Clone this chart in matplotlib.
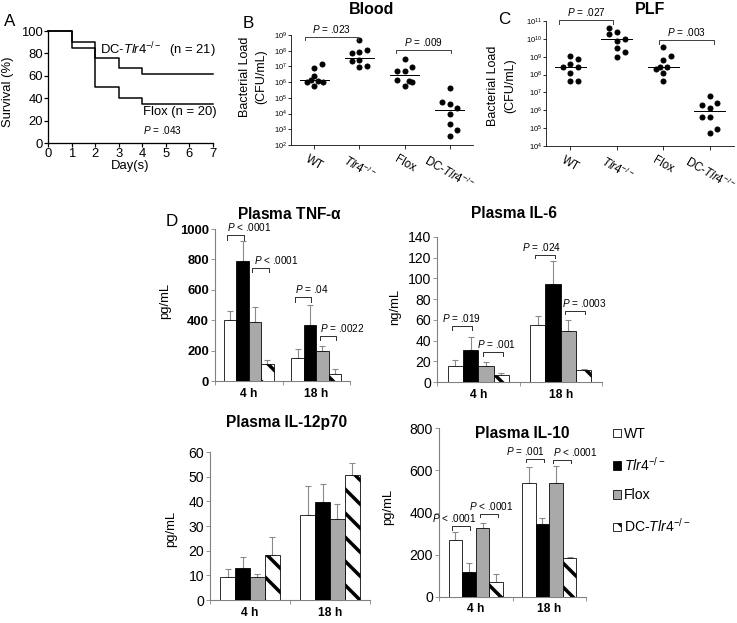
import numpy as np
import matplotlib
matplotlib.use('Agg')
import matplotlib.pyplot as plt
from matplotlib.patches import Patch
from matplotlib.ticker import NullLocator

W, H = 737, 623
DPI = 72

plt.rcParams['font.family'] = ['Liberation Sans', 'DejaVu Sans']
plt.rcParams['mathtext.fontset'] = 'custom'
plt.rcParams['mathtext.rm'] = 'Liberation Sans'
plt.rcParams['mathtext.it'] = 'Liberation Sans:italic'
plt.rcParams['mathtext.bf'] = 'Liberation Sans:bold'
plt.rcParams['hatch.linewidth'] = 3.5

# ---------------- data ----------------
# A: survival
surv_days = [0, 1, 2, 3, 4, 7]
surv_dc = [100, 90.5, 76.2, 66.7, 61.9, 61.9]
surv_flox = [100, 85, 50, 40, 35, 35]

strain_labels = ['WT', r'$\mathit{Tlr4}^{-/-}$', 'Flox', r'DC-$\mathit{Tlr4}^{-/-}$']

# B: blood bacterial load (CFU/mL)
blood_wt = [1.5e7, 7.4e6, 2.3e6, 1.0e6, 1.4e6, 1.1e6, 1.0e6, 5.5e5]
blood_tlr4 = [4.8e8, 7.6e7, 8.9e7, 1.1e8, 2.1e7, 2.6e7, 9.1e6, 1.0e7]
blood_flox = [2.9e7, 4.8e6, 4.8e6, 8.7e6, 1.4e6, 1.1e6, 1.0e6, 5.5e5]
blood_dc = [4.3e5, 5.6e4, 4.2e4, 2.3e4, 9.8e3, 2.1e3, 9.1e2, 3.6e2]
blood_median = [1.3e6, 3.4e7, 3.0e6, 1.7e4]

# C: peritoneal lavage fluid bacterial load (CFU/mL)
plf_wt = [1.1e9, 7.2e8, 3.9e8, 2.5e8, 2.6e8, 1.3e8, 4.6e7, 4.6e7]
plf_tlr4 = [4.3e10, 1.9e10, 2.3e10, 9.8e9, 7.9e9, 3.0e9, 1.9e9, 1.0e9]
plf_flox = [3.4e9, 1.1e9, 6.6e8, 2.0e8, 2.6e8, 2.6e8, 1.3e8, 4.6e7]
plf_dc = [6.6e6, 2.1e6, 2.5e6, 1.3e6, 4.4e5, 4.4e5, 5.1e4, 8.9e4]
plf_median = [2.6e8, 9.3e9, 2.6e8, 8.7e5]

# horizontal jitter of the dots
blood_dx = [[0.16, 0, 0, -0.16, -0.08, 0.09, 0.18, 0],
            [0, -0.17, 0, 0.16, -0.17, 0, 0, 0.16],
            [0, -0.17, 0, 0.16, -0.17, 0.09, 0.16, 0],
            [0, -0.16, 0, 0.16, 0, 0, 0.16, 0]]
plf_dx = [[0, 0.16, 0, -0.16, 0.16, 0, 0, 0.16],
          [-0.16, -0.16, 0, 0.17, 0, 0, 0.17, 0],
          [0, 0.16, 0, -0.16, -0.07, 0.08, 0, 0],
          [0, -0.16, 0.16, 0, -0.16, 0, 0, 0.16]]

# D: plasma cytokines, rows = WT, Tlr4-/-, Flox, DC-Tlr4-/- ; columns = 4 h, 18 h
time_labels = ['4 h', '18 h']
tnf_mean = [[400, 152], [790, 368], [385, 200], [110, 44]]
tnf_err = [[60, 60], [130, 135], [104, 32], [27, 35]]
il6_mean = [[15.4, 54.7], [31.2, 94.6], [15.1, 49.6], [6.4, 11.9]]
il6_err = [[6.2, 8.7], [12.2, 22.6], [4.2, 10.6], [2.6, 0.6]]
il12_mean = [[9.4, 34.4], [13.1, 39.8], [9.2, 32.8], [18.2, 50.6]]
il12_err = [[3.0, 11.8], [4.4, 7.1], [1.3, 6.0], [7.4, 4.9]]
il10_mean = [[268, 540], [118, 344], [327, 540], [71, 186]]
il10_err = [[40, 75], [43, 32], [23, 78], [36, 3]]

# significance brackets: (time index, bar i, bar j, height)
tnf_brackets = [(0, 0, 1, 958), (0, 2, 3, 743), (1, 0, 1, 551), (1, 2, 3, 297)]
tnf_p = [r'$\mathit{P}$ < .0001', r'$\mathit{P}$ < .0001', r'$\mathit{P}$ = .04', r'$\mathit{P}$ = .0022']
il6_brackets = [(0, 0, 1, 54), (0, 2, 3, 29), (1, 0, 1, 123), (1, 2, 3, 69)]
il6_p = [r'$\mathit{P}$ = .019', r'$\mathit{P}$ = .001', r'$\mathit{P}$ = .024', r'$\mathit{P}$ = .0003']
il10_brackets = [(0, 0, 1, 335), (0, 2, 3, 395), (1, 0, 1, 655), (1, 2, 3, 650)]
il10_p = [r'$\mathit{P}$ < .0001', r'$\mathit{P}$ < .0001', r'$\mathit{P}$ = .001', r'$\mathit{P}$ < .0001']

bar_colors = ['white', 'black', '#a9a9a9', 'white']
bar_hatch = [None, None, None, '\\']

fig = plt.figure(figsize=(W / DPI, H / DPI), dpi=DPI)


def add_ax(left, top, right, bottom):
    return fig.add_axes([left / W, 1 - bottom / H, (right - left) / W, (bottom - top) / H])


def ftext(x, y, s, **kw):
    fig.text(x / W, 1 - y / H, s, **kw)


# ---------------- A ----------------
axA = add_ax(48, 31, 213, 143)
axA.step(surv_days, surv_dc, where='post', color='black', lw=1.5, clip_on=False)
axA.step(surv_days, surv_flox, where='post', color='black', lw=1.5, clip_on=False)
axA.set_xlim(0, 7)
axA.set_ylim(0, 100)
axA.set_xticks(range(8))
axA.set_yticks(range(0, 101, 20))
for s in ['top', 'right']:
    axA.spines[s].set_visible(False)
for s in ['left', 'bottom']:
    axA.spines[s].set_linewidth(1.3)
axA.tick_params(labelsize=13, length=4, width=1.2, pad=1)
axA.set_xlabel('Day(s)', fontsize=13, labelpad=0)
axA.text(2.2, 83, r'DC-$\mathit{Tlr4}^{-/-}$  (n = 21)', fontsize=13, va='center')
axA.text(4.03, 27.7, 'Flox (n = 20)', fontsize=13, va='center')
axA.text(4.03, 11.6, r'$\mathit{P}$ = .043', fontsize=10, va='center')
ftext(8, 92, 'Survival (%)', fontsize=13, rotation=90, ha='center', va='center')
ftext(10, 22, 'A', fontsize=17, ha='center', va='center')


# ---------------- B and C ----------------
def dot_panel(rect, groups, dxs, medians, ylo, yhi, brackets, pvals):
    ax = add_ax(*rect)
    for i, (vals, dx) in enumerate(zip(groups, dxs)):
        ax.plot(i + 1 + np.array(dx), vals, 'o', color='black', ms=5, clip_on=False)
        ax.plot([i + 1 - 0.33, i + 1 + 0.33], [medians[i]] * 2, color='black', lw=1)
    ax.set_yscale('log')
    ax.set_ylim(ylo, yhi)
    ax.set_xlim(0.48, 4.52)
    ax.set_yticks([10.0 ** k for k in range(int(np.log10(ylo)), int(np.log10(yhi)) + 1)])
    ax.yaxis.set_minor_locator(NullLocator())
    ax.set_xticks([1, 2, 3, 4])
    ax.set_xticklabels(strain_labels, rotation=-30, ha='center', va='top', fontsize=11.5)
    ax.tick_params(axis='y', labelsize=7.5, length=3, pad=1)
    ax.tick_params(axis='x', length=4, pad=4)
    for s in ['top', 'right']:
        ax.spines[s].set_visible(False)
    for (x0, x1, y, y_drop), p in zip(brackets, pvals):
        ax.plot([x0, x0, x1, x1], [y_drop, y, y, y_drop], color='#444444', lw=1, clip_on=False)
        ax.annotate(p, xy=((x0 + x1) / 2, y), xytext=(0, 2), textcoords='offset points',
                    ha='center', va='bottom', fontsize=10, annotation_clip=False)
    return ax


dot_panel((291, 35, 473, 145),
          [blood_wt, blood_tlr4, blood_flox, blood_dc], blood_dx, blood_median,
          1e2, 1e9,
          [(0.8, 1.97, 10 ** 8.87, 10 ** 8.66), (2.82, 4.04, 10 ** 8.05, 10 ** 7.88)],
          [r'$\mathit{P}$ = .023', r'$\mathit{P}$ = .009'])
ftext(372, 10, 'Blood', fontsize=16, fontweight='bold', ha='center', va='center')
ftext(248, 24, 'B', fontsize=17, ha='center', va='center')
ftext(253, 77, 'Bacterial Load\n(CFU/mL)', fontsize=12.5, rotation=90, ha='center',
      va='center', linespacing=1.45)

dot_panel((546, 21, 734, 146),
          [plf_wt, plf_tlr4, plf_flox, plf_dc], plf_dx, plf_median,
          1e4, 1e11,
          [(0.77, 1.93, 10 ** 11.05, 10 ** 10.85), (2.9, 4.1, 10 ** 9.94, 10 ** 9.74)],
          [r'$\mathit{P}$ = .027', r'$\mathit{P}$ = .003'])
ftext(650, 10, 'PLF', fontsize=16, fontweight='bold', ha='center', va='center')
ftext(504, 19, 'C', fontsize=17, ha='center', va='center')
ftext(502, 86, 'Bacterial Load\n(CFU/mL)', fontsize=12.5, rotation=90, ha='center',
      va='center', linespacing=1.6)


# ---------------- D ----------------
def bar_panel(rect, means, errs, ymax, ystep, tick_fs, brackets=(), pvals=(), text_dx=(),
              drop=0, bold=False, label_pad=7):
    ax = add_ax(*rect)
    bw = 0.185
    centers = []
    for k in range(4):
        x = np.arange(2) + (k - 1.5) * bw
        centers.append(x)
        ax.bar(x, means[k], bw, color=bar_colors[k], edgecolor='black', lw=0.8,
               hatch=bar_hatch[k], zorder=3)
        ax.errorbar(x, means[k], yerr=[np.zeros(2), errs[k]], fmt='none', ecolor='#8a8a8a',
                    elinewidth=1.1, capsize=3, capthick=1.1, zorder=2)
    ax.set_xlim(-0.5, 1.5)
    ax.set_ylim(0, ymax)
    ax.set_yticks(np.arange(0, ymax + ystep / 2, ystep))
    ax.set_xticks([-0.5, 0.5, 1.5])
    ax.set_xticklabels([])
    ax.set_xticks([0, 1], minor=True)
    ax.set_xticklabels(time_labels, minor=True, fontsize=12, fontweight='bold')
    ax.tick_params(axis='x', which='minor', length=0, pad=label_pad)
    ax.tick_params(axis='x', which='major', length=4, color='#808080')
    ax.tick_params(axis='y', length=4, color='#808080', labelsize=tick_fs, pad=2)
    if bold:
        for lab in ax.get_yticklabels():
            lab.set_fontweight('bold')
    for s in ['top', 'right']:
        ax.spines[s].set_visible(False)
    for s in ['left', 'bottom']:
        ax.spines[s].set_color('#808080')
        ax.spines[s].set_linewidth(1.1)
    for (g, i, j, y), p, dx in zip(brackets, pvals, text_dx):
        x0 = centers[i][g] - 0.04
        x1 = centers[j][g] + 0.02
        ax.plot([x0, x0, x1, x1], [y - drop, y, y, y - drop], color='#333333', lw=1,
                clip_on=False, zorder=4)
        ax.annotate(p, xy=(x0, y), xytext=(dx, 2), textcoords='offset points',
                    ha='left', va='bottom', fontsize=10, annotation_clip=False)
    return ax


bar_panel((215, 229, 350, 381), tnf_mean, tnf_err, 1000, 200, 13,
          tnf_brackets, tnf_p, [0, 2, 0, 0], drop=28, bold=True)
ftext(290, 214, r'Plasma TNF-$\mathbf{\alpha}$', fontsize=15.5, fontweight='bold',
      ha='center', va='center')
ftext(172, 221, 'D', fontsize=17, ha='center', va='center')
ftext(165, 301, 'pg/mL', fontsize=13, rotation=90, ha='center', va='center')

bar_panel((437, 237, 602, 382), il6_mean, il6_err, 140, 20, 14,
          il6_brackets, il6_p, [-10, -6, -13, -3], drop=3.5)
ftext(514, 213, 'Plasma IL-6', fontsize=15.5, fontweight='bold', ha='center', va='center')
ftext(395, 307, 'ng/mL', fontsize=13, rotation=90, ha='center', va='center')

bar_panel((210, 452, 370, 600), il12_mean, il12_err, 60, 10, 14)
ftext(287, 423, 'Plasma IL-12p70', fontsize=15.5, fontweight='bold', ha='center', va='center')
ftext(171, 529, 'pg/mL', fontsize=13, rotation=90, ha='center', va='center')

bar_panel((439, 428, 586, 597), il10_mean, il10_err, 800, 200, 14,
          il10_brackets, il10_p, [-20, -11, -20, 0], drop=17, label_pad=6)
ftext(522, 433, 'Plasma IL-10', fontsize=15.5, fontweight='bold', ha='center', va='center')
ftext(388, 507, 'pg/mL', fontsize=13, rotation=90, ha='center', va='center')

handles = [Patch(facecolor=c, edgecolor='black', lw=0.8, hatch=h)
           for c, h in zip(bar_colors, bar_hatch)]
fig.legend(handles, strain_labels, loc='upper left', bbox_to_anchor=(613 / W, 1 - 427 / H),
           frameon=False, fontsize=14, handlelength=0.55, handleheight=0.55,
           handletextpad=0.25, labelspacing=1.05, borderaxespad=0, borderpad=0)

fig.savefig('out.png', dpi=DPI, facecolor='white')
